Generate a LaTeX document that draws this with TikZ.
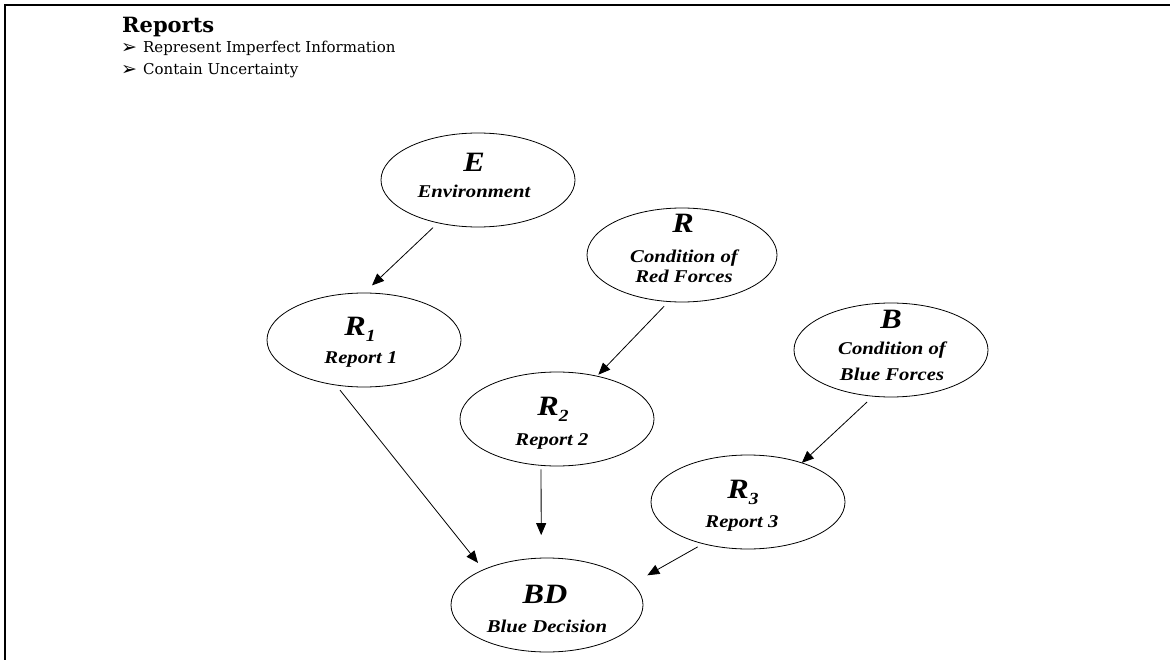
\documentclass[tikz,border=0pt]{standalone}
\usepackage{fontspec}
\usetikzlibrary{shapes.geometric,arrows.meta}
\newfontfamily\labfont[FakeStretch=1.15]{Liberation Serif}
\newfontfamily\headfont{DejaVu Serif}
\newfontfamily\symfont{DejaVu Sans}
\begin{document}
\begin{tikzpicture}[x=1pt,y=-1pt,
  ell/.style={draw, ellipse, line width=0.8pt, minimum width=194pt,
    minimum height=94pt, inner sep=0pt, outer sep=0pt},
  big/.style={font=\labfont\bfseries\itshape\fontsize{28}{28}\selectfont,
    anchor=base, inner sep=0pt},
  small/.style={font=\labfont\bfseries\itshape\fontsize{18}{18}\selectfont,
    anchor=base, inner sep=0pt},
  head/.style={font=\headfont\bfseries\fontsize{21}{21}\selectfont,
    anchor=base west, inner sep=0pt},
  item/.style={font=\headfont\fontsize{15}{15}\selectfont,
    anchor=base west, inner sep=0pt},
  bul/.style={font=\symfont\bfseries\fontsize{19}{19}\selectfont,
    anchor=base west, inner sep=0pt},
  arr/.style={-{Triangle[length=12pt,width=10pt]}, line width=0.8pt}]
\useasboundingbox (0,0) rectangle (1172,660);
\fill[white] (0,0) rectangle (1172,660);

% frame
\draw[line width=2pt] (4.5,660) -- (4.5,5) -- (1170,5);

% heading and bullet list
\node[head] (hd) at (122,33) {Reports};
\node[bul] (b1) at (121,54) {➢};
\node[item] (t1) at (143,53) {Represent Imperfect Information};
\node[bul] (b2) at (121,76) {➢};
\node[item] (t2) at (143,75) {Contain Uncertainty};

% network nodes
\node[ell] (E)  at (478,180) {};
\node[ell] (R1) at (364,340) {};
\node[ell, minimum width=190pt] (R) at (682,255) {};
\node[ell] (B)  at (891,350) {};
\node[ell] (R2) at (557,419) {};
\node[ell] (R3) at (748,502) {};
\node[ell, minimum width=192pt] (BD) at (547,605) {};

% node labels
\node[big]   (Ea)  at (474,172) {E};
\node[small] (Eb)  at (474,198) {Environment};
\node[big]   (R1a) at (360,335) {R\raisebox{-6pt}{\fontsize{17}{17}\selectfont 1}};
\node[small] (R1b) at (361,363) {Report 1};
\node[big]   (Ra)  at (683,233) {R};
\node[small] (Rb)  at (684,262) {Condition of};
\node[small] (Rc)  at (684,283) {Red Forces};
\node[big]   (Ba)  at (891,328) {B};
\node[small] (Bb)  at (892,354) {Condition of};
\node[small] (Bc)  at (892,380) {Blue Forces};
\node[big]   (R2a) at (553,415) {R\raisebox{-6pt}{\fontsize{17}{17}\selectfont 2}};
\node[small] (R2b) at (552,445) {Report 2};
\node[big]   (R3a) at (743,498) {R\raisebox{-6pt}{\fontsize{17}{17}\selectfont 3}};
\node[small] (R3b) at (742,527) {Report 3};
\node[big]   (BDa) at (545,603) {BD};
\node[small] (BDb) at (547,632) {Blue Decision};

% connectors
\draw[arr, shorten <=7pt, shorten >=11pt] (E.227) -- (R1.90);
\draw[arr, shorten <=6.5pt, shorten >=2pt] (R.254) -- (R2.47);
\draw[arr, shorten <=8.5pt] (B.249) -- (R3.36);
\draw[arr, shorten <=6.6pt, shorten >=8.8pt] (R1.238) -- (BD.151);
\draw[arr, shorten <=4pt, shorten >=23pt] (R2.251) -- (BD.97);
\draw[arr, shorten <=6.4pt, shorten >=17pt] (R3.223) -- (BD.14);
\end{tikzpicture}
\end{document}
